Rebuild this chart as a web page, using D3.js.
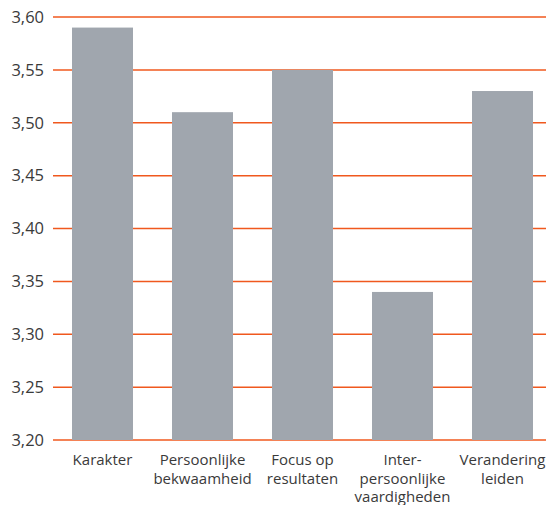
<!DOCTYPE html>
<html>
<head>
<meta charset="utf-8">
<script src="https://cdn.jsdelivr.net/npm/d3@7"></script>
<style>
  body { margin: 0; background: #fff; }
  text { font-family: "Open Sans", sans-serif; fill: #3a3a3a; }
</style>
</head>
<body>
<div id="chart"></div>
<script>
const categories = ['Karakter', 'Persoonlijke bekwaamheid', 'Focus op resultaten', 'Inter- persoonlijke vaardigheden', 'Verandering leiden'];
const labelLines = [['Karakter'], ['Persoonlijke', 'bekwaamheid'], ['Focus op', 'resultaten'], ['Inter-', 'persoonlijke', 'vaardigheden'], ['Verandering', 'leiden']];
const values = [3.59, 3.51, 3.55, 3.34, 3.53];
const yTicks = [3.20, 3.25, 3.30, 3.35, 3.40, 3.45, 3.50, 3.55, 3.60];

const width = 546, height = 505;

const svg = d3.select('#chart').append('svg')
    .attr('width', width)
    .attr('height', height);

const x = d3.scaleBand()
    .domain(categories)
    .range([52.5, 552.5])
    .paddingInner(0.39)
    .paddingOuter(0.195);

const y = d3.scaleLinear()
    .domain([3.20, 3.60])
    .range([440, 17]);

const fmt = d => d3.format('.2f')(d).replace('.', ',');

// gridlines
svg.append('g')
    .selectAll('line')
    .data(yTicks)
    .enter()
    .append('line')
    .attr('x1', 53)
    .attr('x2', width)
    .attr('y1', d => y(d))
    .attr('y2', d => y(d))
    .attr('stroke', '#f0581e')
    .attr('stroke-width', 1.5);

// y tick labels
svg.append('g')
    .selectAll('text')
    .data(yTicks)
    .enter()
    .append('text')
    .attr('x', 44)
    .attr('y', d => y(d))
    .attr('dy', '0.35em')
    .attr('text-anchor', 'end')
    .style('font-size', '16.5px')
    .text(fmt);

// bars
svg.append('g')
    .selectAll('rect')
    .data(values)
    .enter()
    .append('rect')
    .attr('x', (d, i) => x(categories[i]))
    .attr('width', x.bandwidth())
    .attr('y', d => y(d))
    .attr('height', d => y(3.20) - y(d))
    .attr('fill', '#a0a6ae');

// category labels
const lab = svg.append('g')
    .selectAll('text')
    .data(categories)
    .enter()
    .append('text')
    .attr('x', d => x(d) + x.bandwidth() / 2)
    .attr('y', 465)
    .attr('text-anchor', 'middle')
    .style('font-size', '15px');

lab.each(function(d, i) {
    d3.select(this).selectAll('tspan')
        .data(labelLines[i])
        .enter()
        .append('tspan')
        .attr('x', x(d) + x.bandwidth() / 2)
        .attr('dy', (t, j) => j === 0 ? 0 : 18.5)
        .text(t => t);
});
</script>
</body>
</html>
